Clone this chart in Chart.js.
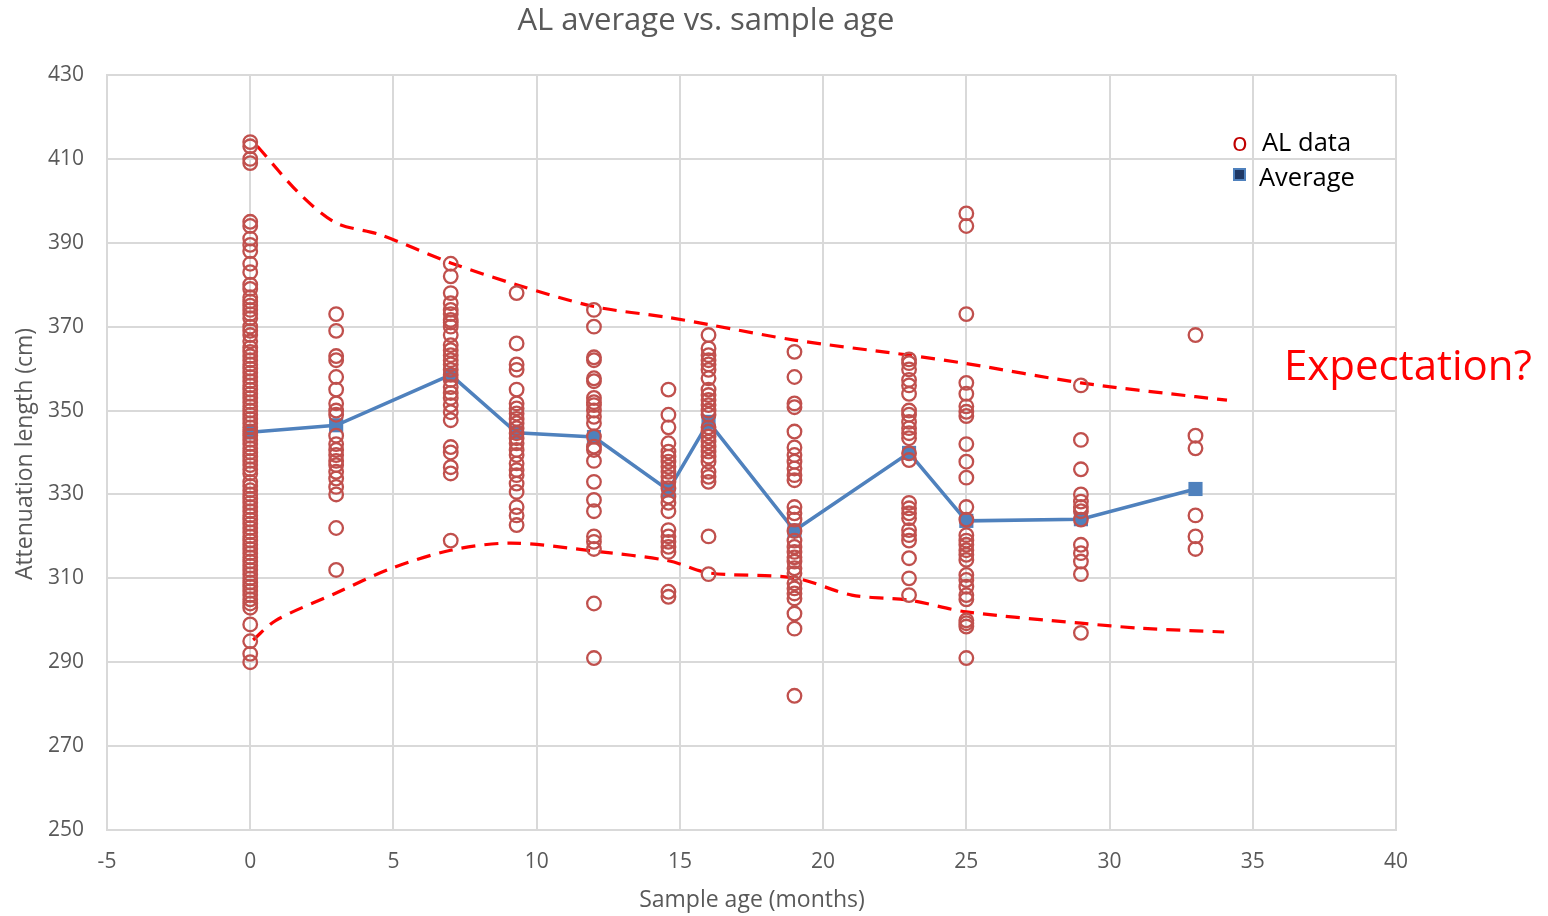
<!DOCTYPE html>
<html>
<head>
<meta charset="utf-8">
<script src="https://cdn.jsdelivr.net/npm/chart.js@4.4.1/dist/chart.umd.min.js"></script>
<style>
  html, body { margin: 0; padding: 0; background: #fff; }
  #wrap { width: 1548px; height: 916px; }
</style>
</head>
<body>
<div id="wrap"><canvas id="alChart" width="1548" height="916"></canvas></div>
<script>
// sample ages (months) where AL was measured
const ages = [0, 3, 7, 9.3, 12, 14.6, 16, 19, 23, 25, 29, 33];

// individual AL measurements (cm), one list per age
const alAge0 = [414, 413, 410, 409, 395, 394, 391, 389.5, 388, 385, 383, 380, 379, 377, 376, 375, 374, 373, 372,
    370, 369, 368, 366.5, 365, 364, 363, 362, 361, 360, 359, 358, 357, 356, 355, 354, 353, 352, 351, 350, 349,
    348, 347, 346, 345, 344, 343, 342, 341, 340, 339, 338, 337, 336, 335, 333, 332, 331, 330, 329, 328, 327,
    326, 325, 324, 323, 322, 321, 320, 319, 318, 317, 316, 315, 314, 313, 312, 311, 310, 309, 308, 307, 306,
    305, 304, 303, 299, 295, 292, 290];
const alAge3 = [373, 369, 363, 362, 358, 355, 351.7, 350, 349, 344, 342, 340.6, 339.4, 338, 337, 335.4, 333.8,
    331.8, 330, 322, 312];
const alAge7 = [385, 382, 378, 375.6, 374, 373, 371.6, 371, 370, 368, 365.6, 364.4, 363.2, 362, 361, 359.7, 358.5,
    357.3, 355.6, 354.2, 353, 351.3, 349.6, 347.7, 341.3, 340, 336.5, 335, 319];
const alAge9 = [378, 366, 361, 359.7, 355, 351.7, 350.5, 349.3, 348, 347, 345.8, 344.6, 343.4, 342.2, 340.6, 339.4,
    337.4, 335.8, 334.6, 332.6, 330.6, 327, 325, 322.7];
const alAge12 = [374, 370, 362.7, 362, 357.7, 357, 353, 352, 351.3, 350, 348.5, 347, 343.8, 341.4, 340.6, 338,
    333, 328.7, 326, 320, 318.7, 317, 304, 291];
const alAge14 = [355, 349, 346, 342.2, 340.2, 339, 337.8, 336.6, 335.4, 334.2, 333, 331.5, 329.5, 328, 326, 321.5,
    320, 318.7, 317.5, 316.3, 306.8, 305.6];
const alAge16 = [368, 364.8, 363.2, 362, 361, 359.7, 357.7, 355, 353.7, 352.5, 351.3, 350, 349, 346, 345, 343.8,
    342.6, 341.4, 340.2, 339, 337.8, 335.4, 334.2, 333, 320, 311];
const alAge19 = [364, 358, 351.7, 350.8, 345, 341.2, 339.4, 337.8, 336.2, 334.6, 333.4, 327, 325.5, 324, 321.3,
    319, 317.5, 316.3, 315, 314, 312.4, 311.2, 308.8, 307.6, 306.4, 305.2, 301.6, 298, 282];
const alAge23 = [362.2, 361.3, 359.8, 357.3, 356, 354, 350, 349, 347.3, 345.8, 344.6, 343.4, 339.8, 338.2, 328,
    326.7, 325.5, 324.3, 321.5, 320.3, 319, 314.8, 310, 306];
const alAge25 = [397, 394, 373, 356.6, 354, 351, 349.7, 348.7, 342, 337.8, 334, 327, 324, 320.3, 319, 318, 316.7,
    315.6, 314.4, 310.8, 309.6, 308, 306, 305, 300, 299.3, 298.5, 291];
const alAge29 = [356, 343, 336, 330, 328.3, 327, 326, 324, 318, 316, 314, 311, 297];
const alAge33 = [368, 344, 341, 325, 320, 317];
const alByAge = [alAge0, alAge3, alAge7, alAge9, alAge12, alAge14, alAge16, alAge19, alAge23, alAge25, alAge29, alAge33];

// average AL at each age
const averageAL = [344.8, 346.5, 358.5, 344.7, 343.7, 331, 347.3, 321.4, 339.9, 323.7, 324.1, 331.3];

// hand-drawn "expectation" envelope
const upperX = [0.25, 1.75, 3, 4.5, 7, 9.3, 12, 14.6, 16, 19, 23, 25, 29, 33, 34.1];
const upperY = [413, 401.5, 394.7, 392, 385.2, 380, 374.8, 372.2, 370.5, 366.8, 363.2, 361.2, 356.6, 353.3, 352.5];
const lowerX = [0.1, 0.9, 3, 4.9, 7, 9.1, 12, 14.6, 16, 19, 21, 23, 25, 29, 31.1, 34];
const lowerY = [295.3, 300, 306.5, 312.3, 316.7, 318.4, 316.5, 314.2, 311.3, 310.1, 306, 304.8, 302, 299.3, 298.1, 297.2];

const grey = '#595959';
const font = '"Open Sans", "Noto Sans", sans-serif';

const scatterPoints = [];
ages.forEach((age, i) => {
    alByAge[i].forEach(v => scatterPoints.push({ x: age, y: v }));
});

const overlayText = {
    id: 'overlayText',
    afterDraw(chart) {
        const ctx = chart.ctx;
        ctx.save();
        ctx.textBaseline = 'middle';

        // title
        ctx.fillStyle = grey;
        ctx.textAlign = 'center';
        ctx.font = '31px ' + font;
        ctx.fillText('AL average vs. sample age', 706, 21);

        // axis titles
        ctx.font = '23px ' + font;
        ctx.fillText('Sample age (months)', 752, 900);
        ctx.save();
        ctx.translate(25, 454);
        ctx.rotate(-Math.PI / 2);
        ctx.fillText('Attenuation length (cm)', 0, 0);
        ctx.restore();

        // legend
        ctx.textAlign = 'left';
        ctx.fillStyle = '#C00000';
        ctx.font = '26px ' + font;
        ctx.fillText('o', 1232, 144);
        ctx.fillStyle = '#000';
        ctx.font = '25.5px ' + font;
        ctx.fillText('AL data', 1262, 144);
        ctx.fillStyle = '#1F3864';
        ctx.strokeStyle = '#4F81BD';
        ctx.lineWidth = 2;
        ctx.fillRect(1234, 169, 11, 11);
        ctx.strokeRect(1234, 169, 11, 11);
        ctx.fillStyle = '#000';
        ctx.fillText('Average', 1259, 179);

        // annotation
        ctx.fillStyle = '#FF0000';
        ctx.font = '42px ' + font;
        ctx.fillText('Expectation?', 1284, 368);
        ctx.restore();
    }
};

new Chart(document.getElementById('alChart'), {
    type: 'scatter',
    data: {
        datasets: [
            {
                label: 'AL data',
                data: scatterPoints,
                pointStyle: 'circle',
                pointRadius: 6.8,
                pointBorderWidth: 2.3,
                pointBorderColor: '#C0504D',
                pointBackgroundColor: 'rgba(0,0,0,0)',
                showLine: false,
                order: 1
            },
            {
                label: 'Average',
                data: ages.map((a, i) => ({ x: a, y: averageAL[i] })),
                showLine: true,
                borderColor: '#4F81BD',
                borderWidth: 3.5,
                pointStyle: 'rect',
                pointRadius: 10,
                pointBackgroundColor: '#4F81BD',
                pointBorderColor: '#4F81BD',
                pointBorderWidth: 0,
                order: 2
            },
            {
                label: 'upper',
                data: upperX.map((x, i) => ({ x: x, y: upperY[i] })),
                showLine: true,
                borderColor: '#FF0000',
                borderWidth: 3.2,
                borderDash: [14, 9],
                tension: 0.3,
                pointRadius: 0,
                order: 3
            },
            {
                label: 'lower',
                data: lowerX.map((x, i) => ({ x: x, y: lowerY[i] })),
                showLine: true,
                borderColor: '#FF0000',
                borderWidth: 3.2,
                borderDash: [14, 9],
                tension: 0.3,
                pointRadius: 0,
                order: 3
            }
        ]
    },
    options: {
        responsive: false,
        animation: false,
        layout: { padding: { top: 75, right: 152, left: 0, bottom: 0 } },
        plugins: {
            legend: { display: false },
            tooltip: { enabled: false }
        },
        scales: {
            x: {
                type: 'linear',
                min: -5,
                max: 40,
                afterFit(scale) { scale.height = 86; },
                grid: { color: '#D9D9D9', lineWidth: 2, drawTicks: false },
                border: { color: '#D9D9D9', width: 2 },
                ticks: {
                    stepSize: 5,
                    padding: 19,
                    color: grey,
                    font: { family: font, size: 21 }
                }
            },
            y: {
                min: 250,
                max: 430,
                afterFit(scale) { scale.width = 107; },
                grid: { color: '#D9D9D9', lineWidth: 2, drawTicks: false },
                border: { color: '#D9D9D9', width: 2 },
                ticks: {
                    stepSize: 20,
                    padding: 23,
                    color: grey,
                    font: { family: font, size: 21 }
                }
            }
        }
    },
    plugins: [overlayText]
});
</script>
</body>
</html>
